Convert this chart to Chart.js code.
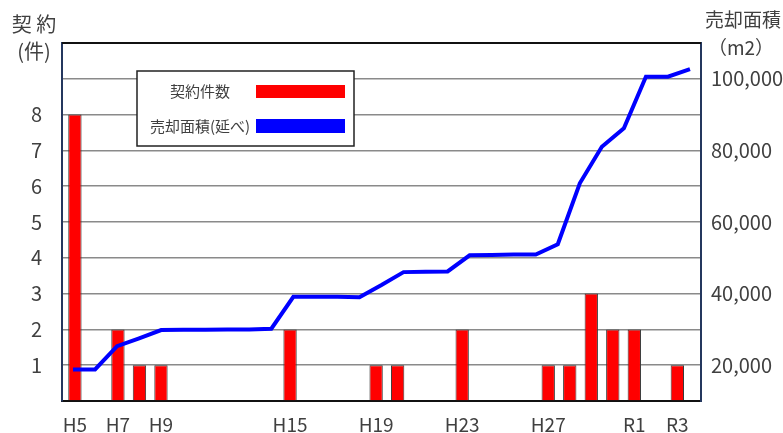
<!DOCTYPE html>
<html>
<head>
<meta charset="utf-8">
<script src="https://cdn.jsdelivr.net/npm/chart.js@4/dist/chart.umd.min.js"></script>
<style>
  html, body { margin: 0; padding: 0; background: #ffffff; }
  #wrap { width: 783px; height: 433px; }
</style>
</head>
<body>
<div id="wrap"><canvas id="c" width="783" height="433"></canvas></div>
<script>
// ---- data ----
const categories = ['H5','H6','H7','H8','H9','H10','H11','H12','H13','H14','H15','H16','H17','H18','H19','H20','H21','H22','H23','H24','H25','H26','H27','H28','H29','H30','R1','R2','R3'];
const contractCounts = [8,null,2,1,1,null,null,null,null,null,2,null,null,null,1,1,null,null,2,null,null,null,1,1,3,2,2,null,1];
const soldAreaCumulative = [18800,18800,25300,27500,29800,29900,29900,30000,30000,30200,39100,39100,39100,39000,42400,46000,46100,46200,50700,50800,50900,50900,53800,70800,81000,86200,100600,100600,102700];
const shownXLabels = ['H5','H7','H9','H15','H19','H23','H27','R1','R3'];
const countTicksShown = [1,2,3,4,5,6,7,8];
const areaTicksShown = [20000,40000,60000,80000,100000];
const seriesNames = ['契約件数','売却面積(延べ)'];
const leftTitle = ['契 約','(件)'];
const rightTitle = ['売却面積','（m2）'];

const FONT = "'Noto Sans CJK JP', 'Noto Sans', sans-serif";
const TXT = '#404040';
const NAVY = '#24375e';

const barPoints = contractCounts.map((v, i) => ({ x: i, y: v }));

const decorPlugin = {
  id: 'decor',
  afterDraw(chart) {
    const ctx = chart.ctx;
    const a = chart.chartArea;
    ctx.save();
    // top border
    ctx.strokeStyle = '#111111';
    ctx.lineWidth = 2;
    ctx.beginPath();
    ctx.moveTo(a.left, a.top);
    ctx.lineTo(a.right, a.top);
    ctx.stroke();
    // axis titles
    ctx.fillStyle = TXT;
    ctx.textAlign = 'center';
    ctx.textBaseline = 'middle';
    ctx.font = '20px ' + FONT;
    ctx.fillText(leftTitle[0], 34, 24);
    ctx.fillText(leftTitle[1], 34, 51);
    ctx.font = '19px ' + FONT;
    ctx.fillText(rightTitle[0], 743, 20);
    ctx.fillText(rightTitle[1], 741, 48);
    // legend box
    const bx = 137, by = 71, bw = 217, bh = 75;
    ctx.fillStyle = '#ffffff';
    ctx.fillRect(bx, by, bw, bh);
    ctx.strokeStyle = '#222222';
    ctx.lineWidth = 1.5;
    ctx.strokeRect(bx, by, bw, bh);
    ctx.font = '15px ' + FONT;
    ctx.fillStyle = TXT;
    ctx.fillText(seriesNames[0], 200, 91);
    ctx.fillText(seriesNames[1], 200, 126);
    ctx.fillStyle = chart.data.datasets[1].backgroundColor;
    ctx.fillRect(256, 85, 89, 13);
    ctx.fillStyle = chart.data.datasets[0].borderColor;
    ctx.fillRect(256, 119, 89, 14);
    ctx.restore();
  }
};

new Chart(document.getElementById('c'), {
  type: 'bar',
  data: {
    labels: categories,
    datasets: [
      {
        type: 'line',
        label: seriesNames[1],
        data: soldAreaCumulative,
        xAxisID: 'x2',
        yAxisID: 'y1',
        borderColor: '#0000ff',
        borderWidth: 4,
        pointRadius: 0,
        tension: 0,
        fill: false,
        order: 0
      },
      {
        type: 'bar',
        label: seriesNames[0],
        data: barPoints,
        xAxisID: 'x',
        yAxisID: 'y',
        backgroundColor: '#ff0000',
        borderColor: '#3a3a3a',
        borderWidth: 1,
        grouped: false,
        categoryPercentage: 1,
        barPercentage: 0.62,
        order: 1
      }
    ]
  },
  options: {
    responsive: false,
    devicePixelRatio: 1,
    animation: false,
    layout: { padding: { top: 43, left: 0, right: 0, bottom: 0 } },
    plugins: { legend: { display: false }, tooltip: { enabled: false } },
    scales: {
      x: {
        type: 'linear',
        position: 'bottom',
        bounds: 'data',
        offset: false,
        min: -0.6,
        max: 29.1,
        grid: { display: false, drawTicks: false, offset: false },
        border: { display: true, color: '#111111', width: 2 },
        afterBuildTicks: s => { s.ticks = categories.map((c, i) => ({ value: i })); },
        ticks: {
          autoSkip: false, maxRotation: 0, minRotation: 0, padding: 12,
          color: TXT, font: { family: FONT, size: 19 },
          callback: function(v) {
            if (!Number.isInteger(v) || v < 0 || v >= categories.length) return '';
            return shownXLabels.includes(categories[v]) ? categories[v] : '';
          }
        },
        afterFit: s => { s.height = 32; }
      },
      x2: {
        type: 'category',
        offset: true,
        display: false
      },
      y: {
        position: 'left',
        min: 0, max: 10,
        grid: {
          drawTicks: false,
          lineWidth: 1.5,
          color: ctx => (ctx.tick && (ctx.tick.value === 0 || ctx.tick.value === 10)) ? 'rgba(0,0,0,0)' : '#8a8a8a'
        },
        border: { display: true, color: NAVY, width: 2 },
        ticks: {
          stepSize: 1, padding: 20, color: TXT, font: { family: FONT, size: 20 },
          callback: v => countTicksShown.includes(v) ? String(v) : ''
        },
        afterFit: s => { s.width = 62; }
      },
      y1: {
        position: 'right',
        min: 10000, max: 110000,
        grid: { display: false, drawTicks: false },
        border: { display: true, color: NAVY, width: 2 },
        ticks: {
          stepSize: 10000, padding: 10, color: TXT, font: { family: FONT, size: 20 },
          callback: v => areaTicksShown.includes(v) ? v.toLocaleString('en-US') : ''
        },
        afterFit: s => { s.width = 82; }
      }
    }
  },
  plugins: [decorPlugin]
});
</script>
</body>
</html>
